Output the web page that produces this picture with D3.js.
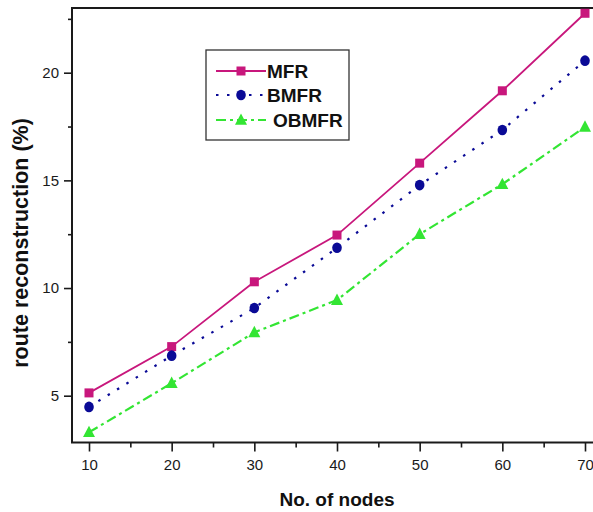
<!DOCTYPE html>
<html>
<head>
<meta charset="utf-8">
<script src="https://cdn.jsdelivr.net/npm/d3@7"></script>
<style>
  html, body { margin: 0; padding: 0; background: #fff; overflow: hidden; }
  svg { display: block; }
</style>
</head>
<body>
<svg id="chart" width="593" height="512"></svg>
<script>
// Route reconstruction versus network size
const nodes = [10, 20, 30, 40, 50, 60, 70];
const mfr   = [5.13, 7.28, 10.29, 12.46, 15.8, 19.16, 22.76];
const bmfr  = [4.48, 6.86, 9.07, 11.87, 14.78, 17.34, 20.56];
const obmfr = [3.30, 5.58, 7.94, 9.44, 12.5, 14.82, 17.48];
const yTicks = [5, 10, 15, 20];
const yMinor = [7.5, 12.5, 17.5, 22.5];
const xTicks = [10, 20, 30, 40, 50, 60, 70];
const xMinor = [15, 25, 35, 45, 55, 65];

const series = [
  { name: "MFR",   values: mfr,   color: "#c8177c", dash: null,          width: 1.8, shape: "square" },
  { name: "BMFR",  values: bmfr,  color: "#0a0a96", dash: "2.5,8.5",     width: 2.2, shape: "circle" },
  { name: "OBMFR", values: obmfr, color: "#33e533", dash: "10,4,3,4",    width: 2.2, shape: "triangle" }
];

const svg = d3.select("#chart");
const plotLeft = 72, plotTop = 8, plotBottom = 442.5, plotRight = 620;

const x = d3.scaleLinear().domain([10, 70]).range([89, 585]);
const y = d3.scaleLinear().domain([5, 20]).range([395.7, 72.7]);

const font = "Arial, 'Liberation Sans', Helvetica, sans-serif";

// plot frame
svg.append("rect")
  .attr("x", plotLeft).attr("y", plotTop)
  .attr("width", plotRight - plotLeft).attr("height", plotBottom - plotTop)
  .attr("fill", "none").attr("stroke", "#1a1a1a").attr("stroke-width", 2);

// x axis
const xAxis = svg.append("g").attr("transform", `translate(0,${plotBottom})`)
  .call(d3.axisBottom(x).tickValues(xTicks).tickSize(9).tickPadding(8).tickFormat(d3.format("d")));
xAxis.select(".domain").remove();
xAxis.selectAll(".tick line").attr("stroke", "#1a1a1a").attr("stroke-width", 1.6);
xAxis.selectAll(".tick text").attr("font-family", font).attr("font-size", 15).attr("fill", "#1a1a1a");
const xMin = svg.append("g").attr("transform", `translate(0,${plotBottom})`)
  .call(d3.axisBottom(x).tickValues(xMinor).tickSize(5).tickFormat(""));
xMin.select(".domain").remove();
xMin.selectAll(".tick line").attr("stroke", "#1a1a1a").attr("stroke-width", 1.6);

// y axis
const yAxis = svg.append("g").attr("transform", `translate(${plotLeft},0)`)
  .call(d3.axisLeft(y).tickValues(yTicks).tickSize(8).tickPadding(5).tickFormat(d3.format("d")));
yAxis.select(".domain").remove();
yAxis.selectAll(".tick line").attr("stroke", "#1a1a1a").attr("stroke-width", 1.6);
yAxis.selectAll(".tick text").attr("font-family", font).attr("font-size", 15).attr("fill", "#1a1a1a");
const yMin = svg.append("g").attr("transform", `translate(${plotLeft},0)`)
  .call(d3.axisLeft(y).tickValues(yMinor).tickSize(4).tickFormat(""));
yMin.select(".domain").remove();
yMin.selectAll(".tick line").attr("stroke", "#1a1a1a").attr("stroke-width", 1.6);

// axis titles
svg.append("text")
  .attr("x", 337).attr("y", 506)
  .attr("text-anchor", "middle")
  .attr("font-family", font).attr("font-weight", "bold").attr("font-size", 19)
  .attr("fill", "#111")
  .text("No. of nodes");
svg.append("text")
  .attr("transform", "translate(28,243) rotate(-90)")
  .attr("text-anchor", "middle")
  .attr("font-family", font).attr("font-weight", "bold").attr("font-size", 21.5)
  .attr("fill", "#111")
  .text("route reconstruction (%)");

function drawMarker(g, shape, cx, cy, color) {
  if (shape === "square") {
    g.append("rect").attr("x", cx - 4.5).attr("y", cy - 4.5).attr("width", 9).attr("height", 9).attr("fill", color);
  } else if (shape === "circle") {
    g.append("ellipse").attr("cx", cx).attr("cy", cy).attr("rx", 4.8).attr("ry", 5.3).attr("fill", color);
  } else {
    const s = 12;
    g.append("path")
      .attr("d", `M${cx},${cy - s * 0.55}L${cx + s / 2},${cy + s * 0.4}L${cx - s / 2},${cy + s * 0.4}Z`)
      .attr("fill", color);
  }
}

const line = d3.line().x((d, i) => x(nodes[i])).y(d => y(d));

series.forEach(s => {
  svg.append("path")
    .datum(s.values)
    .attr("d", line)
    .attr("fill", "none")
    .attr("stroke", s.color)
    .attr("stroke-width", s.width)
    .attr("stroke-dasharray", s.dash);
  const g = svg.append("g");
  s.values.forEach((v, i) => drawMarker(g, s.shape, x(nodes[i]), y(v), s.color));
});

// legend
const lg = svg.append("g");
lg.append("rect")
  .attr("x", 206).attr("y", 50).attr("width", 143).attr("height", 90)
  .attr("fill", "#fff").attr("stroke", "#333").attr("stroke-width", 1.3);
const rowsY = [71, 95, 120];
const textX = [267, 267, 273];
series.forEach((s, i) => {
  const ry = rowsY[i];
  lg.append("line")
    .attr("x1", 216).attr("x2", 266).attr("y1", ry).attr("y2", ry)
    .attr("stroke", s.color).attr("stroke-width", s.width)
    .attr("stroke-dasharray", s.dash);
  drawMarker(lg, s.shape, 241, ry, s.color);
  lg.append("text")
    .attr("x", textX[i]).attr("y", ry + 6.5)
    .attr("font-family", font).attr("font-weight", "bold").attr("font-size", 19)
    .attr("fill", "#111")
    .text(s.name);
});
</script>
</body>
</html>
